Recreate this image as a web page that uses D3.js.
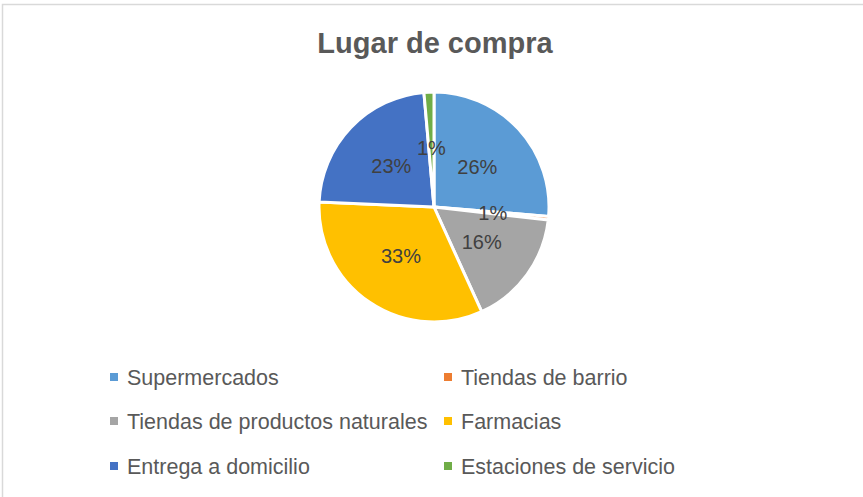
<!DOCTYPE html>
<html>
<head>
<meta charset="utf-8">
<script src="https://cdn.jsdelivr.net/npm/d3@7"></script>
<style>
  html, body { margin: 0; padding: 0; background: #fff; }
  svg { display: block; }
</style>
</head>
<body>
<svg id="chart" width="863" height="497"></svg>
<script>
const categories = ["Supermercados", "Tiendas de barrio", "Tiendas de productos naturales", "Farmacias", "Entrega a domicilio", "Estaciones de servicio"];
const values = [26.3, 0.5, 16.4, 32.5, 22.9, 1.4];
const colors = ["#5b9bd5", "#ed7d31", "#a5a5a5", "#ffc000", "#4472c4", "#70ad47"];
const title = "Lugar de compra";

const svg = d3.select("#chart");
const W = 863, H = 497;
const FONT = "Liberation Sans, Arial, sans-serif";

// frame
svg.append("rect").attr("x", 2.5).attr("y", 4.5).attr("width", W + 10).attr("height", H + 10)
  .attr("fill", "#fff").attr("stroke", "#d9d9d9").attr("stroke-width", 1.5);

// title
svg.append("text").attr("x", 435).attr("y", 53).attr("text-anchor", "middle")
  .attr("font-family", FONT).attr("font-weight", "bold")
  .attr("font-size", 29).attr("fill", "#595959").text(title);

const data = categories.map((c, i) => ({ cat: c, value: values[i], color: colors[i] }));
const total = d3.sum(values);
const pie = d3.pie().sort(null).value(d => d.value);
const arcs = pie(data);
const R = 115;
const cx = 434, cy = 207;
const arc = d3.arc().innerRadius(0).outerRadius(R);
const labelArc = d3.arc().innerRadius(59).outerRadius(59);

const g = svg.append("g").attr("transform", `translate(${cx},${cy})`);
g.selectAll("path").data(arcs).join("path")
  .attr("d", arc).attr("fill", d => d.data.color)
  .attr("stroke", "#fff").attr("stroke-width", 3).attr("stroke-linejoin", "round");

g.selectAll("text.lbl").data(arcs).join("text").attr("class", "lbl")
  .attr("transform", d => `translate(${labelArc.centroid(d)})`)
  .attr("text-anchor", "middle").attr("dy", "0.36em")
  .attr("font-family", FONT).attr("font-size", 20)
  .attr("fill", "#404040")
  .text(d => Math.round(d.data.value / total * 100) + "%");

// legend
const colX = [110, 444];
const rowY = [377, 421, 466];
const leg = svg.append("g");
data.forEach((d, i) => {
  const x = colX[i % 2], y = rowY[Math.floor(i / 2)];
  leg.append("rect").attr("x", x).attr("y", y - 4).attr("width", 8).attr("height", 8).attr("fill", d.color);
  leg.append("text").attr("x", x + 17).attr("y", y).attr("dy", "0.36em")
    .attr("font-family", FONT).attr("font-size", 21.5)
    .attr("fill", "#595959").text(d.cat);
});
</script>
</body>
</html>
